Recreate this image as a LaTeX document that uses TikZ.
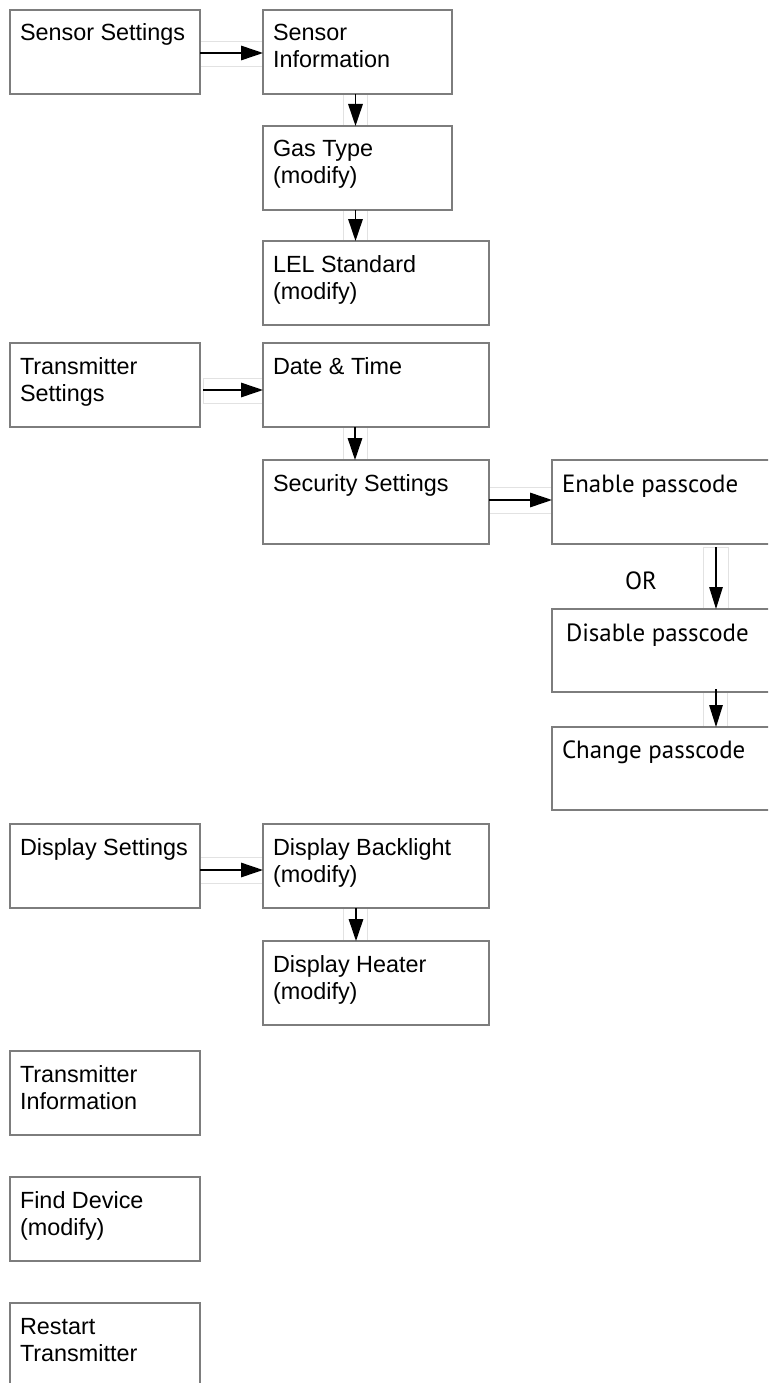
\documentclass[tikz,border=0pt]{standalone}
\usepackage{fontspec}
\setmainfont{Liberation Sans}
\newfontfamily\pfont{PT Sans}
\usetikzlibrary{arrows.meta,calc}
\definecolor{boxgray}{RGB}{125,125,125}
\definecolor{ghost}{RGB}{226,226,226}
\tikzset{
  box/.style={draw=boxgray, line width=1.2pt, rectangle, anchor=north west, outer sep=0pt, inner sep=0pt},
  lbl/.style={anchor=base west, inner sep=0pt, outer sep=0pt, font=\fontsize{23.4}{27}\selectfont},
  plbl/.style={anchor=base west, inner sep=0pt, outer sep=0pt, font=\pfont\fontsize{24.9}{29}\selectfont},
  arr/.style={draw=black, line width=1.5pt, -{Triangle[length=22pt,width=14.5pt]}},
  parr/.style={draw=black, line width=1.2pt, -{Triangle[length=22pt,width=13.5pt]}},
  ghostbox/.style={draw=ghost, line width=1pt}
}
\begin{document}
\begin{tikzpicture}[x=1pt,y=-1pt]
\useasboundingbox (0,0) rectangle (768,1383);
\clip (0,0) rectangle (768,1383);
\fill[white] (0,0) rectangle (768,1383);

% faint boxes behind the arrows
\draw[ghostbox] (200,41.7) rectangle (263,66.7);
\draw[ghostbox] (343,94) rectangle (367,126);
\draw[ghostbox] (343,210) rectangle (367,241);
\draw[ghostbox] (203,378) rectangle (263,403);
\draw[ghostbox] (343,427) rectangle (367,460);
\draw[ghostbox] (489,487) rectangle (552,513);
\draw[ghostbox] (703,547) rectangle (728,608);
\draw[ghostbox] (703,692) rectangle (727,727);
\draw[ghostbox] (200,857) rectangle (263,883);
\draw[ghostbox] (343,908) rectangle (367,941);

% boxes
\node[box, minimum width=190, minimum height=84] (ss) at (10,10) {};
\node[box, minimum width=189, minimum height=84] (si) at (263,10) {};
\node[box, minimum width=189, minimum height=84] (gt) at (263,126) {};
\node[box, minimum width=226, minimum height=84] (lel) at (263,241) {};
\node[box, minimum width=190, minimum height=84] (ts) at (10,343) {};
\node[box, minimum width=226, minimum height=84] (dt) at (263,343) {};
\node[box, minimum width=226, minimum height=84] (sec) at (263,460) {};
\node[box, minimum width=240, minimum height=84] (ep) at (552,460) {};
\node[box, minimum width=240, minimum height=83] (dp) at (552,609) {};
\node[box, minimum width=240, minimum height=83] (cp) at (552,727) {};
\node[box, minimum width=190, minimum height=84] (ds) at (10,824) {};
\node[box, minimum width=226, minimum height=84] (db) at (263,824) {};
\node[box, minimum width=226, minimum height=84] (dh) at (263,941) {};
\node[box, minimum width=190, minimum height=84] (ti) at (10,1051) {};
\node[box, minimum width=190, minimum height=84] (fd) at (10,1177) {};
\node[box, minimum width=190, minimum height=110] (rt) at (10,1303) {};

% labels
\node[lbl] (ss-t) at ($(ss.north west)+(10,31)$) {\parbox[t]{180pt}{Sensor Settings}};
\node[lbl] (si-t) at ($(si.north west)+(10,31)$) {\parbox[t]{180pt}{Sensor\\Information}};
\node[lbl] (gt-t) at ($(gt.north west)+(10,31)$) {\parbox[t]{180pt}{Gas Type\\(modify)}};
\node[lbl] (lel-t) at ($(lel.north west)+(10,31)$) {\parbox[t]{210pt}{LEL Standard\\(modify)}};
\node[lbl] (ts-t) at ($(ts.north west)+(10,31)$) {\parbox[t]{180pt}{Transmitter\\Settings}};
\node[lbl] (dt-t) at ($(dt.north west)+(10,31)$) {\parbox[t]{210pt}{Date \& Time}};
\node[lbl] (sec-t) at ($(sec.north west)+(10,31)$) {\parbox[t]{210pt}{Security Settings}};
\node[plbl] (ep-t) at ($(ep.north west)+(10,32)$) {Enable passcode};
\node[plbl] (dp-t) at ($(dp.north west)+(14,32.5)$) {Disable passcode};
\node[plbl] (cp-t) at ($(cp.north west)+(10,31.5)$) {Change passcode};
\node[plbl] (or-t) at (625,589) {OR};
\node[lbl] (ds-t) at ($(ds.north west)+(10,31)$) {\parbox[t]{180pt}{Display Settings}};
\node[lbl] (db-t) at ($(db.north west)+(10,31)$) {\parbox[t]{210pt}{Display Backlight\\(modify)}};
\node[lbl] (dh-t) at ($(dh.north west)+(10,31)$) {\parbox[t]{210pt}{Display Heater\\(modify)}};
\node[lbl] (ti-t) at ($(ti.north west)+(10,31)$) {\parbox[t]{180pt}{Transmitter\\Information}};
\node[lbl] (fd-t) at ($(fd.north west)+(10,31)$) {\parbox[t]{180pt}{Find Device\\(modify)}};
\node[lbl] (rt-t) at ($(rt.north west)+(10,31)$) {\parbox[t]{180pt}{Restart\\Transmitter}};

% connectors
\draw[arr] ([yshift=-1pt]ss.east) -- ([yshift=-1pt]si.west);
\draw[arr] ([xshift=-2pt]si.south) -- ([xshift=-2pt]gt.north);
\draw[arr] ([xshift=-2pt]gt.south) -- ([xshift=-2pt]gt.south |- lel.north);
\draw[arr] ([xshift=3pt,yshift=-5pt]ts.east) -- ([yshift=-5pt]dt.west);
\draw[arr] ([xshift=92pt]dt.south west) -- ([xshift=92pt]sec.north west);
\draw[arr] ([yshift=2pt]sec.east) -- ([yshift=2pt]ep.west);
\draw[parr] ([xshift=164pt,yshift=-3pt]ep.south west) -- ([xshift=164pt]dp.north west);
\draw[parr] ([xshift=164pt,yshift=3pt]dp.south west) -- ([xshift=164pt]cp.north west);
\draw[arr] ([yshift=-4pt]ds.east) -- ([yshift=-4pt]db.west);
\draw[arr] ([xshift=93pt]db.south west) -- ([xshift=93pt]dh.north west);
\end{tikzpicture}
\end{document}
